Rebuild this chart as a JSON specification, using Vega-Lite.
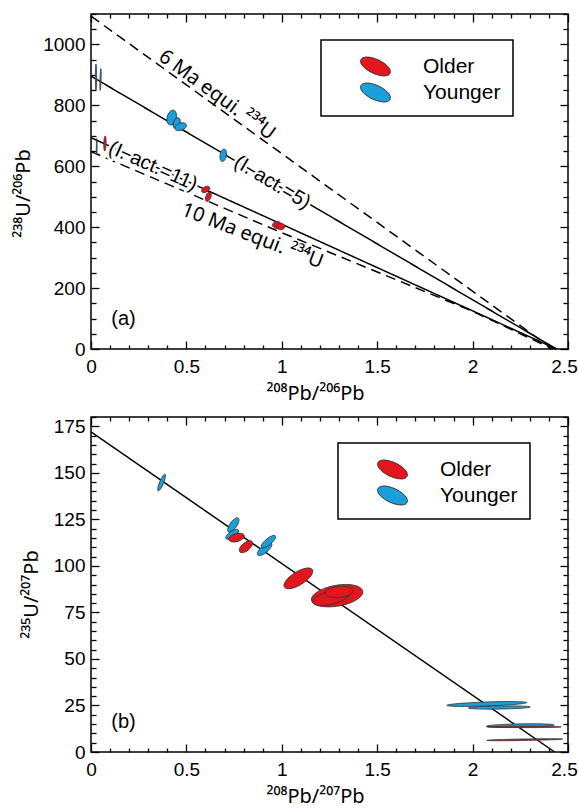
{
  "$schema": "https://vega.github.io/schema/vega-lite/v6.json",
  "padding": {"left": 12, "top": 4, "right": 5, "bottom": 0},
  "config": {
    "font": "Liberation Sans",
    "view": {"stroke": "black", "strokeWidth": 1.5},
    "axis": {"labelFontSize": 19, "labelColor": "black", "titleFont": "Noto Sans", "titleFontSize": 20, "titleFontWeight": "normal", "titleColor": "black", "tickColor": "black", "tickWidth": 1.3, "grid": false, "domain": false, "labelOverlap": false, "labelFlush": false, "labelBound": false},
    "legend": {"title": null, "strokeColor": "black", "strokeWidth": 1.5, "fillColor": "white", "padding": 12, "symbolType": "M -1.042 -0.486 A 1.15 0.5 25 1 1 1.042 0.486 A 1.15 0.5 25 1 1 -1.042 -0.486 Z", "symbolSize": 784, "symbolStrokeColor": "#333333", "symbolStrokeWidth": 1, "symbolOffset": 28, "labelOffset": 33, "labelFontSize": 21, "labelColor": "black", "rowPadding": 0, "labelExpr": "datum.label + '  '"}
  },
  "datasets": {
    "curvesA": [
      {"curve": "6 Ma equiline", "kind": "dashed", "x": 0, "y": 1093},
      {"curve": "6 Ma equiline", "kind": "dashed", "x": 2.42, "y": 0},
      {"curve": "10 Ma equiline", "kind": "dashed", "x": 0, "y": 648},
      {"curve": "10 Ma equiline", "kind": "dashed", "x": 1.0, "y": 382},
      {"curve": "10 Ma equiline", "kind": "dashed", "x": 2.0, "y": 124},
      {"curve": "10 Ma equiline", "kind": "dashed", "x": 2.42, "y": 0},
      {"curve": "I.act.=5", "kind": "solid", "x": 0, "y": 896},
      {"curve": "I.act.=5", "kind": "solid", "x": 2.44, "y": 0},
      {"curve": "I.act.=11", "kind": "solid", "x": 0, "y": 694},
      {"curve": "I.act.=11", "kind": "solid", "x": 2.44, "y": 0}
    ],
    "ellipsesA": [
      {"group": "Younger", "x": 0.423, "y": 760, "major": 0.079, "ratio": 0.6, "tilt": 75},
      {"group": "Younger", "x": 0.449, "y": 742, "major": 0.058, "ratio": 0.6, "tilt": 70},
      {"group": "Younger", "x": 0.47, "y": 730, "major": 0.063, "ratio": 0.6, "tilt": 20},
      {"group": "Younger", "x": 0.693, "y": 636, "major": 0.066, "ratio": 0.5, "tilt": 80},
      {"group": "Older", "x": 0.601, "y": 524, "major": 0.047, "ratio": 0.6, "tilt": 30},
      {"group": "Older", "x": 0.615, "y": 500, "major": 0.052, "ratio": 0.5, "tilt": 70},
      {"group": "Older", "x": 0.975, "y": 407, "major": 0.047, "ratio": 0.8, "tilt": 0},
      {"group": "Older", "x": 0.995, "y": 402, "major": 0.042, "ratio": 0.8, "tilt": 0},
      {"group": "Younger", "x": 0.026, "y": 893, "major": 0.136, "ratio": 0.05, "tilt": 90},
      {"group": "Younger", "x": 0.05, "y": 885, "major": 0.115, "ratio": 0.05, "tilt": 88},
      {"group": "Older", "x": 0.073, "y": 675, "major": 0.079, "ratio": 0.15, "tilt": 88},
      {"group": "Younger", "x": 0.03, "y": 665, "major": 0.084, "ratio": 0.05, "tilt": 90}
    ],
    "curveB": [
      {"curve": "isochron", "x": 0, "y": 172},
      {"curve": "isochron", "x": 2.43, "y": 0}
    ],
    "ellipsesB": [
      {"group": "Younger", "x": 0.37, "y": 144.8, "major": 0.094, "ratio": 0.22, "tilt": 68},
      {"group": "Younger", "x": 0.746, "y": 122, "major": 0.089, "ratio": 0.4, "tilt": 55},
      {"group": "Younger", "x": 0.74, "y": 117, "major": 0.079, "ratio": 0.4, "tilt": 35},
      {"group": "Older", "x": 0.763, "y": 115.2, "major": 0.084, "ratio": 0.5, "tilt": 15},
      {"group": "Older", "x": 0.812, "y": 110.3, "major": 0.084, "ratio": 0.5, "tilt": 40},
      {"group": "Younger", "x": 0.91, "y": 109, "major": 0.094, "ratio": 0.4, "tilt": 40},
      {"group": "Younger", "x": 0.93, "y": 113, "major": 0.094, "ratio": 0.35, "tilt": 40},
      {"group": "Older", "x": 1.087, "y": 93.3, "major": 0.173, "ratio": 0.4, "tilt": 32},
      {"group": "Older", "x": 1.29, "y": 84, "major": 0.273, "ratio": 0.4, "tilt": 10},
      {"group": "Older", "x": 1.26, "y": 83, "major": 0.2, "ratio": 0.35, "tilt": 15},
      {"group": "Older", "x": 1.3, "y": 86, "major": 0.147, "ratio": 0.4, "tilt": 5},
      {"group": "Younger", "x": 2.074, "y": 25.8, "major": 0.419, "ratio": 0.05, "tilt": 2},
      {"group": "Younger", "x": 2.14, "y": 23.9, "major": 0.325, "ratio": 0.05, "tilt": 1},
      {"group": "Younger", "x": 2.25, "y": 14.2, "major": 0.356, "ratio": 0.05, "tilt": 1},
      {"group": "Older", "x": 2.27, "y": 13.5, "major": 0.388, "ratio": 0.02, "tilt": 0},
      {"group": "Older", "x": 2.273, "y": 6.6, "major": 0.398, "ratio": 0.02, "tilt": 1}
    ]
  },
  "spacing": 3,
  "resolve": {"scale": {"color": "independent"}, "legend": {"color": "independent"}},
  "vconcat": [
    {
      "width": 477,
      "height": 335,
      "resolve": {"axis": {"x": "independent", "y": "independent"}},
      "layer": [
        {
          "data": {"name": "curvesA"},
          "mark": {"type": "line", "color": "black", "strokeWidth": 1.5},
          "encoding": {
            "x": {"field": "x", "type": "quantitative", "scale": {"domain": [0, 2.5], "nice": false, "zero": false},
              "axis": {"orient": "bottom", "values": [0,0.1,0.2,0.3,0.4,0.5,0.6,0.7,0.8,0.9,1,1.1,1.2,1.3,1.4,1.5,1.6,1.7,1.8,1.9,2,2.1,2.2,2.3,2.4,2.5],
                "labelExpr": "abs(datum.value*2-round(datum.value*2))<0.001 ? ''+datum.value : ''",
                "tickSize": {"condition": {"test": "abs(datum.value*2-round(datum.value*2))<0.001", "value": -8}, "value": -4},
                "labelOffset": {"condition": {"test": "datum.value == 2.5", "value": -4}, "value": 0},
                "labelPadding": 16, "title": "²⁰⁸Pb/²⁰⁶Pb", "titlePadding": 3, "titleX": 224}},
            "y": {"field": "y", "type": "quantitative", "scale": {"domain": [0, 1100], "nice": false},
              "axis": {"orient": "left", "values": [0,50,100,150,200,250,300,350,400,450,500,550,600,650,700,750,800,850,900,950,1000,1050,1100],
                "labelExpr": "datum.value % 200 == 0 ? ''+datum.value : ''",
                "tickSize": {"condition": {"test": "datum.value % 200 == 0", "value": -8}, "value": -5},
                "labelPadding": 14, "title": "²³⁸U/²⁰⁶Pb", "titlePadding": 9, "titleY": 179}},
            "detail": {"field": "curve", "type": "nominal"},
            "strokeDash": {"field": "kind", "type": "nominal", "scale": {"domain": ["solid", "dashed"], "range": [[1, 0], [10, 6]]}, "legend": null}
          }
        },
        {
          "data": {"values": [{"x": 0.66, "y": 834, "label": "6 Ma equi.  ²³⁴U"}]},
          "mark": {"type": "text", "angle": 36, "fontSize": 20, "font": "Noto Sans", "align": "center", "baseline": "middle", "color": "black"},
          "encoding": {
            "x": {"field": "x", "type": "quantitative", "scale": {"domain": [0, 2.5], "nice": false, "zero": false}, "axis": null},
            "y": {"field": "y", "type": "quantitative", "scale": {"domain": [0, 1100], "nice": false}, "axis": null},
            "text": {"field": "label"}
          }
        },
        {
          "data": {"values": [{"x": 0.846, "y": 371, "label": "10 Ma equi.  ²³⁴U"}]},
          "mark": {"type": "text", "angle": 21, "fontSize": 20, "font": "Noto Sans", "align": "center", "baseline": "middle", "color": "black"},
          "encoding": {
            "x": {"field": "x", "type": "quantitative", "scale": {"domain": [0, 2.5], "nice": false, "zero": false}, "axis": null},
            "y": {"field": "y", "type": "quantitative", "scale": {"domain": [0, 1100], "nice": false}, "axis": null},
            "text": {"field": "label"}
          }
        },
        {
          "data": {"values": [{"x": 0.95, "y": 547, "label": "(I. act.=5)"}]},
          "mark": {"type": "text", "angle": 31, "fontSize": 20, "align": "center", "baseline": "middle", "fill": "white", "stroke": "white", "strokeWidth": 5, "strokeJoin": "round"},
          "encoding": {
            "x": {"field": "x", "type": "quantitative", "scale": {"domain": [0, 2.5], "nice": false, "zero": false}, "axis": null},
            "y": {"field": "y", "type": "quantitative", "scale": {"domain": [0, 1100], "nice": false}, "axis": null},
            "text": {"field": "label"}
          }
        },
        {
          "data": {"values": [{"x": 0.95, "y": 547, "label": "(I. act.=5)"}]},
          "mark": {"type": "text", "angle": 31, "fontSize": 20, "align": "center", "baseline": "middle", "color": "black"},
          "encoding": {
            "x": {"field": "x", "type": "quantitative", "scale": {"domain": [0, 2.5], "nice": false, "zero": false}, "axis": null},
            "y": {"field": "y", "type": "quantitative", "scale": {"domain": [0, 1100], "nice": false}, "axis": null},
            "text": {"field": "label"}
          }
        },
        {
          "data": {"values": [{"x": 0.325, "y": 600, "label": "(I. act.=11)"}]},
          "mark": {"type": "text", "angle": 24, "fontSize": 20, "align": "center", "baseline": "middle", "fill": "white", "stroke": "white", "strokeWidth": 5, "strokeJoin": "round"},
          "encoding": {
            "x": {"field": "x", "type": "quantitative", "scale": {"domain": [0, 2.5], "nice": false, "zero": false}, "axis": null},
            "y": {"field": "y", "type": "quantitative", "scale": {"domain": [0, 1100], "nice": false}, "axis": null},
            "text": {"field": "label"}
          }
        },
        {
          "data": {"values": [{"x": 0.325, "y": 600, "label": "(I. act.=11)"}]},
          "mark": {"type": "text", "angle": 24, "fontSize": 20, "align": "center", "baseline": "middle", "color": "black"},
          "encoding": {
            "x": {"field": "x", "type": "quantitative", "scale": {"domain": [0, 2.5], "nice": false, "zero": false}, "axis": null},
            "y": {"field": "y", "type": "quantitative", "scale": {"domain": [0, 1100], "nice": false}, "axis": null},
            "text": {"field": "label"}
          }
        },
        {
          "data": {"values": [{"x": 0.17, "y": 100, "label": "(a)"}]},
          "mark": {"type": "text", "fontSize": 20, "align": "center", "baseline": "middle", "color": "black"},
          "encoding": {
            "x": {"field": "x", "type": "quantitative", "scale": {"domain": [0, 2.5], "nice": false, "zero": false}, "axis": null},
            "y": {"field": "y", "type": "quantitative", "scale": {"domain": [0, 1100], "nice": false}, "axis": null},
            "text": {"field": "label"}
          }
        },
        {
          "data": {"name": "ellipsesA"},
          "mark": {"type": "point", "filled": true, "opacity": 1, "stroke": "#333333", "strokeWidth": 0.8},
          "encoding": {
            "x": {"field": "x", "type": "quantitative", "scale": {"domain": [0, 2.5], "nice": false, "zero": false},
              "axis": {"orient": "top", "labels": false, "title": null, "values": [0,0.1,0.2,0.3,0.4,0.5,0.6,0.7,0.8,0.9,1,1.1,1.2,1.3,1.4,1.5,1.6,1.7,1.8,1.9,2,2.1,2.2,2.3,2.4,2.5],
                "tickSize": {"condition": {"test": "abs(datum.value*2-round(datum.value*2))<0.001", "value": -8}, "value": -4}}},
            "y": {"field": "y", "type": "quantitative", "scale": {"domain": [0, 1100], "nice": false},
              "axis": {"orient": "right", "labels": false, "title": null, "values": [0,50,100,150,200,250,300,350,400,450,500,550,600,650,700,750,800,850,900,950,1000,1050,1100],
                "tickSize": {"condition": {"test": "datum.value % 200 == 0", "value": -8}, "value": -5}}},
            "color": {"field": "group", "type": "nominal", "scale": {"domain": ["Older", "Younger"], "range": ["#E3161E", "#1B9FDB"]},
              "legend": {"orient": "none", "legendX": 230, "legendY": 26}},
            "shape": {"field": "ratio", "type": "ordinal", "legend": null, "scale": {"domain": [0.02, 0.05, 0.15, 0.22, 0.35, 0.4, 0.5, 0.6, 0.8],
              "range": ["M -1 0 A 1 0.02 0 1 1 1 0 A 1 0.02 0 1 1 -1 0 Z", "M -1 0 A 1 0.05 0 1 1 1 0 A 1 0.05 0 1 1 -1 0 Z", "M -1 0 A 1 0.15 0 1 1 1 0 A 1 0.15 0 1 1 -1 0 Z", "M -1 0 A 1 0.22 0 1 1 1 0 A 1 0.22 0 1 1 -1 0 Z", "M -1 0 A 1 0.35 0 1 1 1 0 A 1 0.35 0 1 1 -1 0 Z", "M -1 0 A 1 0.4 0 1 1 1 0 A 1 0.4 0 1 1 -1 0 Z", "M -1 0 A 1 0.5 0 1 1 1 0 A 1 0.5 0 1 1 -1 0 Z", "M -1 0 A 1 0.6 0 1 1 1 0 A 1 0.6 0 1 1 -1 0 Z", "M -1 0 A 1 0.8 0 1 1 1 0 A 1 0.8 0 1 1 -1 0 Z"]}},
            "size": {"field": "major", "type": "quantitative", "legend": null, "scale": {"type": "pow", "exponent": 2, "domain": [0, 1], "range": [0, 36405]}},
            "angle": {"field": "tilt", "type": "quantitative", "legend": null, "scale": {"domain": [-90, 90], "range": [90, -90]}}
          }
        }
      ]
    },
    {
      "width": 477,
      "height": 335,
      "resolve": {"axis": {"x": "independent", "y": "independent"}},
      "layer": [
        {
          "data": {"name": "curveB"},
          "mark": {"type": "line", "color": "black", "strokeWidth": 1.5},
          "encoding": {
            "x": {"field": "x", "type": "quantitative", "scale": {"domain": [0, 2.5], "nice": false, "zero": false},
              "axis": {"orient": "bottom", "values": [0,0.1,0.2,0.3,0.4,0.5,0.6,0.7,0.8,0.9,1,1.1,1.2,1.3,1.4,1.5,1.6,1.7,1.8,1.9,2,2.1,2.2,2.3,2.4,2.5],
                "labelExpr": "abs(datum.value*2-round(datum.value*2))<0.001 ? ''+datum.value : ''",
                "tickSize": {"condition": {"test": "abs(datum.value*2-round(datum.value*2))<0.001", "value": -8}, "value": -4},
                "labelOffset": {"condition": {"test": "datum.value == 2.5", "value": -4}, "value": 0},
                "labelPadding": 16, "title": "²⁰⁸Pb/²⁰⁷Pb", "titlePadding": 3, "titleX": 224}},
            "y": {"field": "y", "type": "quantitative", "scale": {"domain": [0, 180], "nice": false},
              "axis": {"orient": "left", "values": [0,5,10,15,20,25,30,35,40,45,50,55,60,65,70,75,80,85,90,95,100,105,110,115,120,125,130,135,140,145,150,155,160,165,170,175,180],
                "labelExpr": "datum.value % 25 == 0 ? ''+datum.value : ''",
                "tickSize": {"condition": {"test": "datum.value % 25 == 0", "value": -8}, "value": -5},
                "labelPadding": 14, "title": "²³⁵U/²⁰⁷Pb", "titlePadding": 12, "titleY": 177}},
            "detail": {"field": "curve", "type": "nominal"}
          }
        },
        {
          "data": {"values": [{"x": 0.17, "y": 16, "label": "(b)"}]},
          "mark": {"type": "text", "fontSize": 20, "align": "center", "baseline": "middle", "color": "black"},
          "encoding": {
            "x": {"field": "x", "type": "quantitative", "scale": {"domain": [0, 2.5], "nice": false, "zero": false}, "axis": null},
            "y": {"field": "y", "type": "quantitative", "scale": {"domain": [0, 180], "nice": false}, "axis": null},
            "text": {"field": "label"}
          }
        },
        {
          "data": {"name": "ellipsesB"},
          "mark": {"type": "point", "filled": true, "opacity": 1, "stroke": "#333333", "strokeWidth": 0.8},
          "encoding": {
            "x": {"field": "x", "type": "quantitative", "scale": {"domain": [0, 2.5], "nice": false, "zero": false},
              "axis": {"orient": "top", "labels": false, "title": null, "values": [0,0.1,0.2,0.3,0.4,0.5,0.6,0.7,0.8,0.9,1,1.1,1.2,1.3,1.4,1.5,1.6,1.7,1.8,1.9,2,2.1,2.2,2.3,2.4,2.5],
                "tickSize": {"condition": {"test": "abs(datum.value*2-round(datum.value*2))<0.001", "value": -8}, "value": -4}}},
            "y": {"field": "y", "type": "quantitative", "scale": {"domain": [0, 180], "nice": false},
              "axis": {"orient": "right", "labels": false, "title": null, "values": [0,5,10,15,20,25,30,35,40,45,50,55,60,65,70,75,80,85,90,95,100,105,110,115,120,125,130,135,140,145,150,155,160,165,170,175,180],
                "tickSize": {"condition": {"test": "datum.value % 25 == 0", "value": -8}, "value": -5}}},
            "color": {"field": "group", "type": "nominal", "scale": {"domain": ["Older", "Younger"], "range": ["#E3161E", "#1B9FDB"]},
              "legend": {"orient": "none", "legendX": 247, "legendY": 26}},
            "shape": {"field": "ratio", "type": "ordinal", "legend": null, "scale": {"domain": [0.02, 0.05, 0.15, 0.22, 0.35, 0.4, 0.5, 0.6, 0.8],
              "range": ["M -1 0 A 1 0.02 0 1 1 1 0 A 1 0.02 0 1 1 -1 0 Z", "M -1 0 A 1 0.05 0 1 1 1 0 A 1 0.05 0 1 1 -1 0 Z", "M -1 0 A 1 0.15 0 1 1 1 0 A 1 0.15 0 1 1 -1 0 Z", "M -1 0 A 1 0.22 0 1 1 1 0 A 1 0.22 0 1 1 -1 0 Z", "M -1 0 A 1 0.35 0 1 1 1 0 A 1 0.35 0 1 1 -1 0 Z", "M -1 0 A 1 0.4 0 1 1 1 0 A 1 0.4 0 1 1 -1 0 Z", "M -1 0 A 1 0.5 0 1 1 1 0 A 1 0.5 0 1 1 -1 0 Z", "M -1 0 A 1 0.6 0 1 1 1 0 A 1 0.6 0 1 1 -1 0 Z", "M -1 0 A 1 0.8 0 1 1 1 0 A 1 0.8 0 1 1 -1 0 Z"]}},
            "size": {"field": "major", "type": "quantitative", "legend": null, "scale": {"type": "pow", "exponent": 2, "domain": [0, 1], "range": [0, 36405]}},
            "angle": {"field": "tilt", "type": "quantitative", "legend": null, "scale": {"domain": [-90, 90], "range": [90, -90]}}
          }
        }
      ]
    }
  ]
}
